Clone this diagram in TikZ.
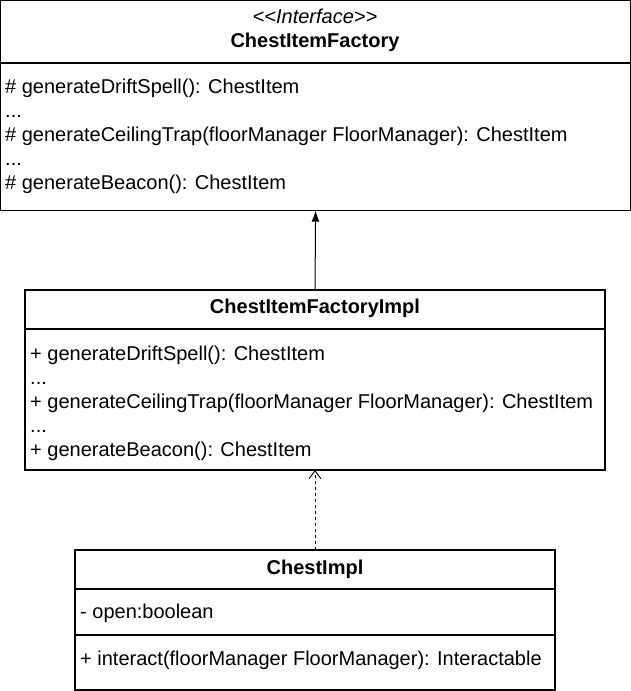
\documentclass[tikz,border=0pt]{standalone}
\usepackage{fontspec}
\setmainfont{Liberation Sans}
\usetikzlibrary{arrows.meta}
\begin{document}
\begin{tikzpicture}[x=1pt,y=-1pt,
  classbox/.style={draw=black,line width=1.3pt,fill=white,inner sep=0pt,outer sep=0pt,anchor=north west},
  sepline/.style={line width=2pt},
  member/.style={anchor=base west,inner sep=0pt,font=\fontsize{20}{24}\selectfont},
  title/.style={anchor=base,inner sep=0pt,font=\fontsize{20}{24}\selectfont\bfseries},
  realize/.style={line width=1pt,-{Latex[length=11pt,width=8pt]}},
  depend/.style={line width=0.9pt,dash pattern=on 3pt off 3pt,-{Straight Barb[length=8pt,width=12pt]}}]
\useasboundingbox (0,0) rectangle (631,691);

% interface ChestItemFactory
\node[classbox,minimum width=630pt,minimum height=210pt] (factory) at (0.6,0.6) {};
\draw[sepline] (0.6,62.5) -- (630.4,62.5);
\node[anchor=base,inner sep=0pt,font=\fontsize{20}{24}\selectfont\itshape] (fster) at (315,23) {<{}<Interface>{}>};
\node[title] (fname) at (315,47) {ChestItemFactory};
\node[member] (f1) at (5,93) {\# generateDriftSpell(): ChestItem};
\node[member] (f2) at (5,117) {...};
\node[member] (f3) at (5,141) {\# generateCeilingTrap(floorManager FloorManager): ChestItem};
\node[member] (f4) at (5,165) {...};
\node[member] (f5) at (5,189) {\# generateBeacon(): ChestItem};

% class ChestItemFactoryImpl
\node[classbox,minimum width=580pt,minimum height=180pt] (impl) at (25,290) {};
\draw[sepline] (25,329) -- (605,329);
\node[title] (iname) at (315,313) {ChestItemFactoryImpl};
\node[member] (i1) at (30,360) {+ generateDriftSpell(): ChestItem};
\node[member] (i2) at (30,384) {...};
\node[member] (i3) at (30,408) {+ generateCeilingTrap(floorManager FloorManager): ChestItem};
\node[member] (i4) at (30,432) {...};
\node[member] (i5) at (30,456) {+ generateBeacon(): ChestItem};

% class ChestImpl
\node[classbox,minimum width=480pt,minimum height=140pt] (chest) at (75,550) {};
\draw[sepline] (75,589) -- (555,589);
\draw[sepline] (75,635) -- (555,635);
\node[title] (cname) at (315,574) {ChestImpl};
\node[member] (c1) at (80,618) {- open:boolean};
\node[member] (c2) at (80,665) {+ interact(floorManager FloorManager): Interactable};

% relations
\draw[realize] (impl.north) -- (factory.south);
\draw[depend] (chest.north) -- (impl.south);
\end{tikzpicture}
\end{document}
